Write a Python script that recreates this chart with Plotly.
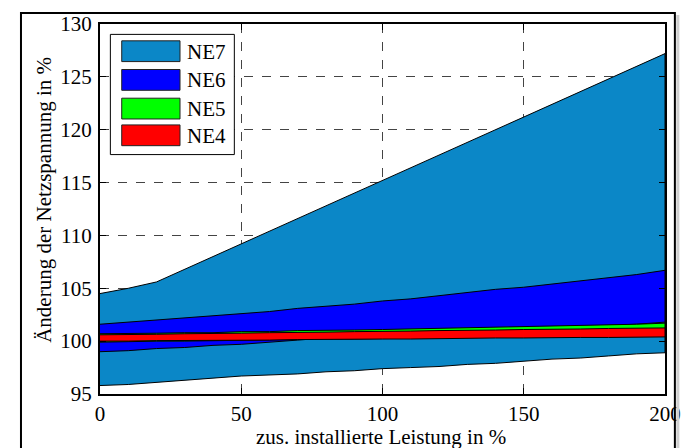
import plotly.graph_objects as go

# ---- data ----
x_vals = [0, 10, 20, 30, 40, 50, 60, 70, 80, 90, 100, 110, 120, 130, 140, 150, 160, 170, 180, 190, 200]

ne7_upper = [104.5, 105.0, 105.6, 106.8, 108.0, 109.2, 110.4, 111.6, 112.8, 114.0, 115.2,
             116.4, 117.6, 118.8, 120.0, 121.2, 122.4, 123.6, 124.8, 126.0, 127.2]
ne7_lower = [95.8, 95.9, 96.1, 96.3, 96.5, 96.7, 96.8, 96.9, 97.1, 97.2, 97.4,
             97.5, 97.6, 97.8, 97.9, 98.1, 98.3, 98.4, 98.6, 98.8, 98.9]

ne6_upper = [101.6, 101.8, 102.0, 102.2, 102.4, 102.6, 102.8, 103.1, 103.3, 103.5, 103.8,
             104.0, 104.3, 104.6, 104.9, 105.1, 105.4, 105.7, 106.0, 106.3, 106.7]
ne6_lower = [99.0, 99.1, 99.3, 99.4, 99.6, 99.7, 99.9, 100.1, 100.3, 100.4, 100.6,
             100.7, 100.8, 101.0, 101.1, 101.2, 101.3, 101.4, 101.5, 101.6, 101.8]

ne5_upper = [100.7, 100.7, 100.75, 100.8, 100.8, 100.9, 100.9, 101.0, 101.0, 101.05, 101.1,
             101.15, 101.2, 101.25, 101.3, 101.35, 101.4, 101.5, 101.55, 101.6, 101.7]
ne5_lower = [99.9, 99.95, 100.0, 100.0, 100.05, 100.1, 100.1, 100.15, 100.2, 100.2, 100.25,
             100.3, 100.3, 100.35, 100.4, 100.4, 100.45, 100.5, 100.5, 100.55, 100.6]

ne4_upper = [100.6, 100.6, 100.65, 100.7, 100.7, 100.75, 100.8, 100.8, 100.85, 100.9, 100.9,
             100.95, 101.0, 101.0, 101.05, 101.1, 101.1, 101.15, 101.2, 101.2, 101.25]
ne4_lower = [100.0, 100.0, 100.05, 100.05, 100.1, 100.1, 100.1, 100.15, 100.15, 100.2, 100.2,
             100.2, 100.25, 100.25, 100.3, 100.3, 100.3, 100.35, 100.35, 100.35, 100.4]

series_names = ["NE7", "NE6", "NE5", "NE4"]
series_colors = ["#0B87C7", "#0000FF", "#00FF00", "#FF0000"]
series_upper = [ne7_upper, ne6_upper, ne5_upper, ne4_upper]
series_lower = [ne7_lower, ne6_lower, ne5_lower, ne4_lower]

x_ticks = [0, 50, 100, 150, 200]
y_ticks = [95, 100, 105, 110, 115, 120, 125, 130]
x_title = "zus. installierte Leistung in %"
y_title = "Änderung der Netzspannung in %"

FONT = "'Liberation Serif', 'Times New Roman', Times, serif"

fig = go.Figure()
for name, col, up, lo in zip(series_names, series_colors, series_upper, series_lower):
    fig.add_trace(go.Scatter(
        x=x_vals + x_vals[::-1],
        y=up + lo[::-1],
        fill="toself", fillcolor=col, mode="lines",
        line=dict(color="black", width=1),
        name=name, showlegend=False, hoverinfo="skip"))

# plot area in pixels: x 100..672, y 20..394
W, H = 693, 448
L, R, T, B = 100, 21, 20, 54
pw, ph = W - L - R, H - T - B

def px(xp):
    return (xp - L) / pw

def py(yp):
    return (H - B - yp) / ph

shapes = []
annotations = []

# outer frame
shapes.append(dict(type="rect", xref="paper", yref="paper",
                   x0=px(20), x1=px(682), y0=py(470), y1=py(9),
                   line=dict(color="black", width=2), layer="above"))
shapes.append(dict(type="line", xref="paper", yref="paper",
                   x0=px(685), x1=px(685), y0=py(470), y1=py(11),
                   line=dict(color="#d0d0d0", width=3)))

# manual legend
shapes.append(dict(type="rect", xref="paper", yref="paper",
                   x0=px(110.5), x1=px(236), y0=py(152), y1=py(30.5),
                   fillcolor="white", line=dict(color="black", width=1), layer="above"))
sw_tops = [37, 66, 95, 122]
for i, (name, col) in enumerate(zip(series_names, series_colors)):
    t = sw_tops[i]
    shapes.append(dict(type="rect", xref="paper", yref="paper",
                       x0=px(122), x1=px(181), y0=py(t + 21), y1=py(t),
                       fillcolor=col, line=dict(color="#222", width=1), layer="above"))
    annotations.append(dict(text=name, xref="paper", yref="paper",
                            x=px(186), y=py(t + 11), xanchor="left", yanchor="middle",
                            showarrow=False, font=dict(family=FONT, size=21, color="black")))

# axis titles
annotations.append(dict(text=x_title, xref="paper", yref="paper",
                        x=px(384), y=py(437), xanchor="center", yanchor="middle",
                        showarrow=False, font=dict(family=FONT, size=21, color="black")))
annotations.append(dict(text=y_title, xref="paper", yref="paper",
                        x=px(43), y=py(198), xanchor="center", yanchor="middle",
                        textangle=-90, showarrow=False,
                        font=dict(family=FONT, size=21, color="black")))

axis_common = dict(showline=True, linecolor="black", linewidth=2, mirror="ticks",
                   ticks="inside", ticklen=6, tickcolor="black", tickwidth=1,
                   showgrid=True, gridcolor="#444", griddash="dash", gridwidth=1,
                   zeroline=False, tickfont=dict(family=FONT, size=21, color="black"))

fig.update_layout(
    width=W, height=H,
    margin=dict(l=L, r=R, t=T, b=B),
    paper_bgcolor="white", plot_bgcolor="white",
    showlegend=False,
    font=dict(family=FONT),
    xaxis=dict(range=[0, 200], tickvals=x_ticks, **axis_common),
    yaxis=dict(range=[95, 130], tickvals=y_ticks, ticklabelstandoff=2, **axis_common),
    shapes=shapes, annotations=annotations,
)

fig.write_html("out.html")
